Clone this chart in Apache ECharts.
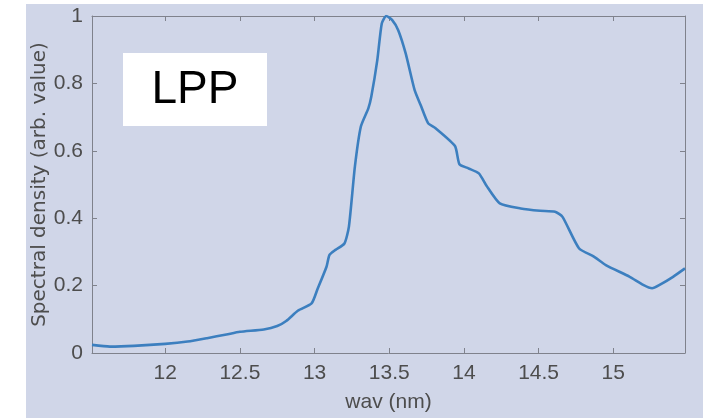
<!DOCTYPE html>
<html>
<head>
<meta charset="utf-8">
<script src="https://cdn.jsdelivr.net/npm/echarts@6/dist/echarts.min.js"></script>
<style>
  html, body { margin: 0; padding: 0; background: #fff; }
  #main { width: 703px; height: 419px; }
</style>
</head>
<body>
<div id="main"></div>
<script>
// wavelength (nm)
const wav = [11.51, 11.63, 11.79, 12.00, 12.15, 12.28, 12.41, 12.50, 12.66, 12.75,
    12.81, 12.89, 12.98, 13.02, 13.08, 13.10, 13.14, 13.20, 13.23, 13.27,
    13.31, 13.36, 13.38, 13.42, 13.45, 13.48, 13.52, 13.56, 13.61, 13.67,
    13.71, 13.76, 13.81, 13.94, 13.97, 14.03, 14.10, 14.15, 14.24, 14.38,
    14.51, 14.61, 14.66, 14.77, 14.87, 14.95, 15.11, 15.20, 15.26, 15.31,
    15.40, 15.48];
// spectral density (arb. value)
const density = [0.024, 0.019, 0.021, 0.027, 0.034, 0.044, 0.055, 0.063, 0.070, 0.080,
    0.095, 0.126, 0.147, 0.190, 0.256, 0.291, 0.306, 0.325, 0.375, 0.553,
    0.672, 0.726, 0.761, 0.869, 0.978, 1.000, 0.988, 0.958, 0.889, 0.780,
    0.736, 0.682, 0.667, 0.614, 0.560, 0.548, 0.533, 0.497, 0.444, 0.429,
    0.422, 0.419, 0.404, 0.311, 0.286, 0.261, 0.226, 0.202, 0.192, 0.202,
    0.226, 0.251];
const xTicks = [12, 12.5, 13, 13.5, 14, 14.5, 15];

const bg = '#d0d6e8';
const axisCol = '#7f828c';
const labelCol = '#4d4d4d';
const font = '"Liberation Sans", Arial, sans-serif';

const chart = echarts.init(document.getElementById('main'));

const points = [];
for (let i = 0; i < wav.length; i++) {
    points.push([wav[i], density[i]]);
}

const xBase = {
    type: 'value',
    min: 11.51,
    max: 15.48,
    splitLine: { show: false },
    axisLine: { show: true, onZero: false, lineStyle: { color: axisCol, width: 1 } },
    axisTick: { show: true, inside: true, length: 5, customValues: xTicks, lineStyle: { color: axisCol } }
};
const yBase = {
    type: 'value',
    min: 0,
    max: 1,
    interval: 0.2,
    splitLine: { show: false },
    axisLine: { show: true, onZero: false, lineStyle: { color: axisCol, width: 1 } },
    axisTick: { show: true, inside: true, length: 5, lineStyle: { color: axisCol } }
};

const option = {
    backgroundColor: '#fff',
    animation: false,
    graphic: [
        { type: 'rect', z: -10, shape: { x: 26, y: 4, width: 677, height: 414 }, style: { fill: bg } },
        { type: 'rect', z: 10, shape: { x: 123, y: 53, width: 144, height: 73 }, style: { fill: '#fff' } },
        { type: 'text', z: 11, x: 195, y: 90,
          style: { text: 'LPP', fill: '#000', font: '46px "Liberation Sans", Arial, sans-serif',
                   align: 'center', verticalAlign: 'middle' } }
    ],
    grid: { left: 92, right: 18, top: 16, bottom: 66 },
    xAxis: [
        Object.assign({}, xBase, {
            position: 'bottom',
            name: 'wav (nm)',
            nameLocation: 'middle',
            nameGap: 39,
            nameMoveOverlap: false,
            nameTextStyle: { color: labelCol, fontSize: 21, fontFamily: font },
            axisLabel: { show: true, customValues: xTicks, margin: 10, color: labelCol,
                         fontSize: 21, fontFamily: font }
        }),
        Object.assign({}, xBase, { position: 'top', axisLabel: { show: false } })
    ],
    yAxis: [
        Object.assign({}, yBase, {
            position: 'left',
            name: 'Spectral density (arb. value)',
            nameLocation: 'middle',
            nameGap: 42,
            nameMoveOverlap: false,
            nameTextStyle: { color: labelCol, fontSize: 20, fontFamily: 'DejaVu Sans' },
            axisLabel: { show: true, margin: 9, color: labelCol, fontSize: 21,
                         fontFamily: font,
                         formatter: function (v) { return String(+v.toFixed(1)); } }
        }),
        Object.assign({}, yBase, { position: 'right', axisLabel: { show: false } })
    ],
    series: [{
        type: 'line',
        data: points,
        showSymbol: false,
        smooth: 0.2,
        lineStyle: { color: '#3c7fbf', width: 2.6 }
    }]
};

chart.setOption(option);
</script>
</body>
</html>
